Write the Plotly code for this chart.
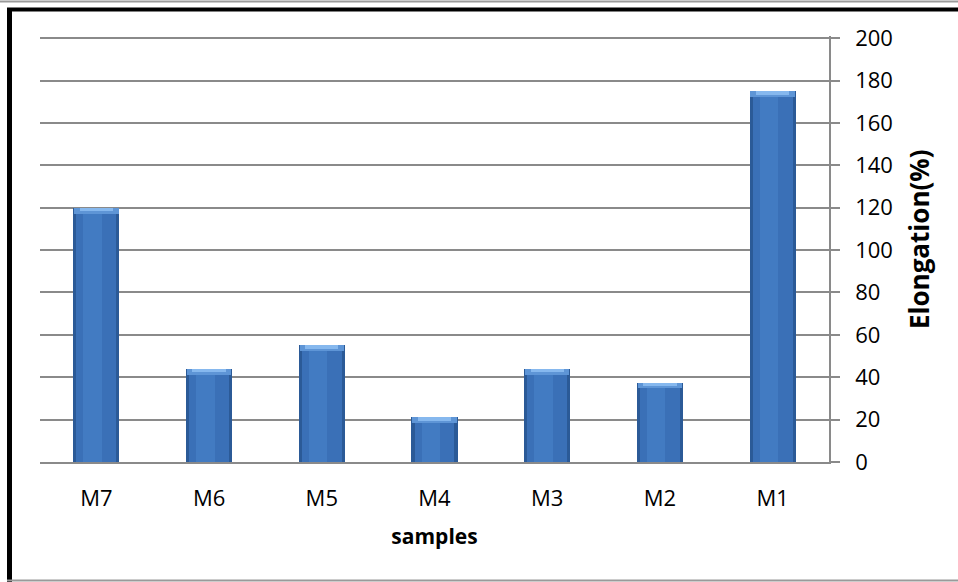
import plotly.graph_objects as go

# ---- data ----
samples = ["M7", "M6", "M5", "M4", "M3", "M2", "M1"]
elongation = [120, 44, 55, 21, 44, 37.5, 175]
y_ticks = [0, 20, 40, 60, 80, 100, 120, 140, 160, 180, 200]

# ---- layout geometry (px) ----
W, H = 958, 582
L, R, T, B = 40, 958 - 829, 36, 582 - 462
pw, ph = W - L - R, H - T - B

def px_x(p):
    return (p - L) / pw

def px_y(p):
    return (H - B - p) / ph

FONT = "Open Sans"
GRID = "#8a8a8a"

fig = go.Figure()

BW = 0.41
cap = 2.8  # height of the light top bevel (in data units)

# dark outer body
fig.add_trace(go.Bar(x=samples, y=elongation, width=BW, marker=dict(color="#2b5a97", line=dict(width=0)),
                     hoverinfo="x+y", name="Elongation"))
# main body
fig.add_trace(go.Bar(x=samples, y=[v - 0.3 for v in elongation], width=BW * 0.86,
                     marker=dict(color="#3a70b7", line=dict(width=0)), hoverinfo="skip", showlegend=False))
# light strip
fig.add_trace(go.Bar(x=samples, y=[v - 0.3 for v in elongation], width=BW * 0.40, offset=-BW * 0.28,
                     marker=dict(color="#427bc2", line=dict(width=0)), hoverinfo="skip", showlegend=False))
# top bevel
fig.add_trace(go.Bar(x=samples, y=[cap] * len(elongation), base=[v - cap for v in elongation], width=BW * 0.96,
                     marker=dict(color="#5e95d6", line=dict(width=0)), hoverinfo="skip", showlegend=False))
fig.add_trace(go.Bar(x=samples, y=[cap * 0.6] * len(elongation), base=[v - cap * 0.6 for v in elongation],
                     width=BW * 0.72, marker=dict(color="#86b8ee", line=dict(width=0)),
                     hoverinfo="skip", showlegend=False))

fig.update_layout(
    width=W, height=H,
    margin=dict(l=L, r=R, t=T, b=B, pad=0),
    paper_bgcolor="white", plot_bgcolor="white",
    barmode="overlay", showlegend=False, bargap=0,
    font=dict(family=FONT, color="black", size=21),
    xaxis=dict(
        type="category", categoryorder="array", categoryarray=samples,
        showgrid=False, showline=True, linecolor=GRID, linewidth=2,
        ticks="", tickfont=dict(family=FONT, size=22), ticklabelstandoff=16,
        title=dict(text="<b>samples</b>", font=dict(family=FONT, size=21), standoff=18),
        zeroline=False, fixedrange=True,
    ),
    yaxis=dict(
        side="right", range=[0, 201], tickvals=y_ticks, ticktext=[str(v) for v in y_ticks],
        showgrid=True, gridcolor=GRID, gridwidth=1.6,
        showline=True, linecolor=GRID, linewidth=1.6,
        ticks="outside", ticklen=9, tickcolor=GRID, tickwidth=1.6,
        tickfont=dict(family=FONT, size=22), ticklabelstandoff=11,
        zeroline=False, fixedrange=True,
    ),
    annotations=[
        dict(text="<b>Elongation(%)</b>", xref="paper", yref="paper", x=px_x(919), y=px_y(239),
             xanchor="center", yanchor="middle", textangle=-90, showarrow=False,
             font=dict(family=FONT, size=26, color="black")),
    ],
    shapes=[
        # thin top line
        dict(type="line", xref="paper", yref="paper", x0=px_x(0), x1=px_x(958), y0=px_y(1.5), y1=px_y(1.5),
             line=dict(color="#9a9a9a", width=2)),
        # thick black top frame
        dict(type="line", xref="paper", yref="paper", x0=px_x(7), x1=px_x(958), y0=px_y(9.5), y1=px_y(9.5),
             line=dict(color="black", width=4)),
        # thick black left frame
        dict(type="line", xref="paper", yref="paper", x0=px_x(9.5), x1=px_x(9.5), y0=px_y(8), y1=px_y(582),
             line=dict(color="black", width=5)),
        # bottom gray frame
        dict(type="line", xref="paper", yref="paper", x0=px_x(7), x1=px_x(958), y0=px_y(580.5), y1=px_y(580.5),
             line=dict(color="#9a9a9a", width=2)),
    ],
)

fig.write_html("out.html", config={"displayModeBar": False},
               post_script="document.body.style.margin='0';document.body.style.overflow='hidden';")
